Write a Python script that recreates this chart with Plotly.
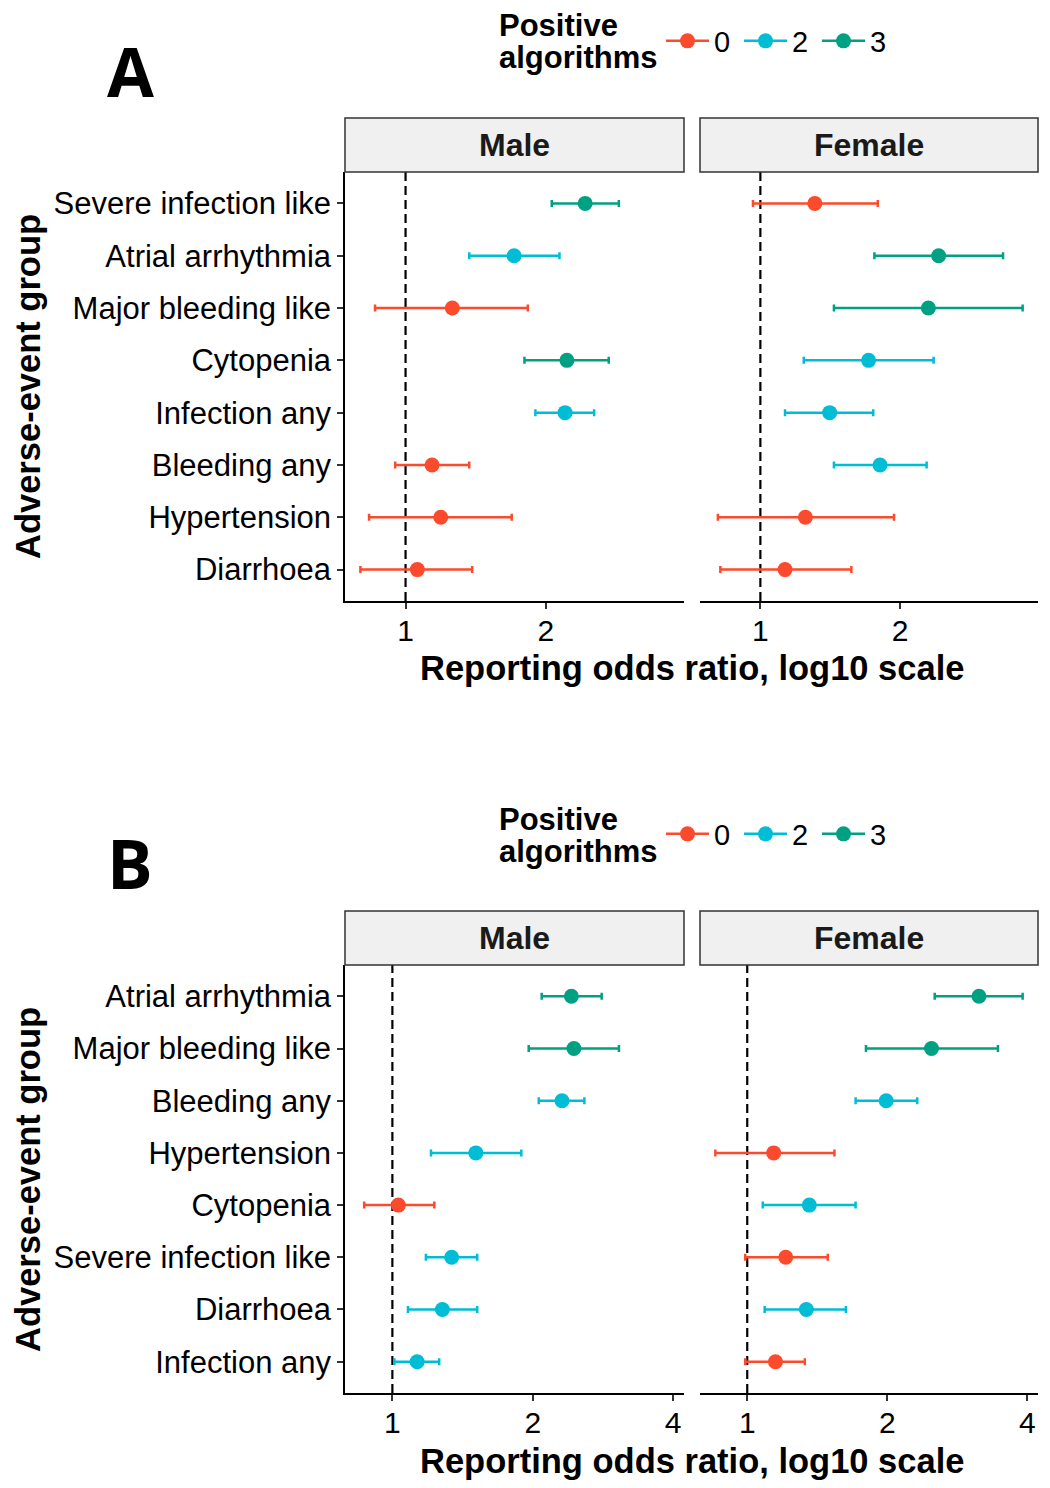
import numpy as np
import plotly.graph_objects as go

# ---- panel A: categories top -> bottom
a_groups = ["Severe infection like", "Atrial arrhythmia", "Major bleeding like", "Cytopenia",
            "Infection any", "Bleeding any", "Hypertension", "Diarrhoea"]
a_male_or = [2.43, 1.71, 1.26, 2.22, 2.20, 1.14, 1.19, 1.06]
a_male_lo = [2.06, 1.37, 0.86, 1.80, 1.90, 0.95, 0.835, 0.80]
a_male_hi = [2.87, 2.14, 1.83, 2.73, 2.54, 1.37, 1.69, 1.39]
a_male_alg = [3, 2, 0, 3, 2, 0, 0, 0]
a_female_or = [1.31, 2.42, 2.30, 1.71, 1.41, 1.81, 1.25, 1.13]
a_female_lo = [0.964, 1.76, 1.44, 1.24, 1.13, 1.44, 0.81, 0.82]
a_female_hi = [1.79, 3.33, 3.67, 2.36, 1.75, 2.28, 1.94, 1.57]
a_female_alg = [0, 3, 3, 2, 2, 2, 0, 0]

# ---- panel B: categories top -> bottom
b_groups = ["Atrial arrhythmia", "Major bleeding like", "Bleeding any", "Hypertension",
            "Cytopenia", "Severe infection like", "Diarrhoea", "Infection any"]
b_male_or = [2.42, 2.45, 2.31, 1.51, 1.03, 1.34, 1.28, 1.13]
b_male_lo = [2.09, 1.96, 2.06, 1.21, 0.87, 1.18, 1.08, 1.01]
b_male_hi = [2.81, 3.06, 2.58, 1.89, 1.23, 1.52, 1.52, 1.26]
b_male_alg = [3, 3, 2, 2, 0, 2, 2, 2]
b_female_or = [3.15, 2.49, 1.99, 1.14, 1.36, 1.21, 1.34, 1.15]
b_female_lo = [2.53, 1.80, 1.71, 0.854, 1.08, 0.99, 1.09, 0.99]
b_female_hi = [3.91, 3.46, 2.32, 1.54, 1.71, 1.49, 1.63, 1.33]
b_female_alg = [3, 3, 2, 0, 2, 0, 2, 0]

alg_levels = [0, 2, 3]
alg_colors = {0: "#FB4A2C", 2: "#00BDD6", 3: "#00A082"}
tick_vals = [1, 2, 4]

# page body has an 8px margin, so the figure is 16px smaller than the window
OFF = 8
W, H = 1050 - 2 * OFF, 1488 - 2 * OFF
FONT = "Liberation Sans, Arial, sans-serif"


def fx(px):
    return (px - OFF) / W


def fy(py):
    return 1 - (py - OFF) / H


def log_range(lo, hi):
    # ggplot-like 5% expansion on log scale
    a = np.log10(min(lo))
    b = np.log10(max(hi))
    pad = (b - a) * 0.05
    return [a - pad, b + pad]


fig = go.Figure()

facets = [
    ("x", "y", a_groups, a_male_or, a_male_lo, a_male_hi, a_male_alg),
    ("x2", "y2", a_groups, a_female_or, a_female_lo, a_female_hi, a_female_alg),
    ("x3", "y3", b_groups, b_male_or, b_male_lo, b_male_hi, b_male_alg),
    ("x4", "y4", b_groups, b_female_or, b_female_lo, b_female_hi, b_female_alg),
]

for xa, ya, groups, orr, lo, hi, alg in facets:
    orr, lo, hi, alg = map(np.array, (orr, lo, hi, alg))
    groups = np.array(groups)
    for k in alg_levels:
        m = alg == k
        if not m.any():
            continue
        fig.add_trace(go.Scatter(
            x=orr[m], y=groups[m], mode="markers",
            xaxis=xa, yaxis=ya, showlegend=False,
            marker=dict(size=15, color=alg_colors[k]),
            error_x=dict(type="data", symmetric=False,
                         array=hi[m] - orr[m], arrayminus=orr[m] - lo[m],
                         color=alg_colors[k], thickness=2.5, width=3.5),
        ))

# legend entries (one legend per panel)
for leg, xa, ya in [("legend", "x", "y"), ("legend2", "x3", "y3")]:
    for k in alg_levels:
        fig.add_trace(go.Scatter(
            x=[None], y=[None], mode="lines+markers", name=str(k),
            xaxis=xa, yaxis=ya, legend=leg,
            marker=dict(size=15, color=alg_colors[k]),
            line=dict(color=alg_colors[k], width=2.5),
        ))

rng_a = log_range(a_male_lo + a_female_lo, a_male_hi + a_female_hi)
rng_b = log_range(b_male_lo + b_female_lo, b_male_hi + b_female_hi)

xcommon = dict(type="log", tickvals=tick_vals, ticktext=[str(v) for v in tick_vals],
               showgrid=False, zeroline=False, showline=True, linecolor="black",
               linewidth=1.5, ticks="outside", ticklen=6, tickwidth=1.5, tickcolor="#333",
               ticklabelstandoff=-4,
               tickfont=dict(size=30, color="black", family=FONT))


def ycommon(groups, labels):
    return dict(type="category", categoryarray=groups[::-1], range=[-0.6, 7.6],
                showgrid=False, zeroline=False, showline=labels, linecolor="black",
                linewidth=1.5, ticks="outside" if labels else "", ticklen=6,
                tickwidth=1.5, tickcolor="#333", showticklabels=labels,
                tickfont=dict(size=31, color="black", family=FONT))


male_dom = [fx(345), fx(684)]
female_dom = [fx(700), fx(1038)]
a_dom = [fy(601), fy(172)]
b_dom = [fy(1393), fy(965)]

legend_common = dict(orientation="h", xanchor="left", yanchor="middle",
                     bgcolor="rgba(0,0,0,0)", entrywidth=20, entrywidthmode="pixels",
                     itemwidth=43,
                     font=dict(size=29, family=FONT, color="black"),
                     itemsizing="trace")

fig.update_layout(
    width=W, height=H, plot_bgcolor="white", paper_bgcolor="white",
    margin=dict(l=0, r=0, t=0, b=0),
    font=dict(family=FONT, color="black"),
    xaxis=dict(domain=male_dom, anchor="y", range=rng_a, **xcommon),
    xaxis2=dict(domain=female_dom, anchor="y2", range=rng_a, **xcommon),
    xaxis3=dict(domain=male_dom, anchor="y3", range=rng_b, **xcommon),
    xaxis4=dict(domain=female_dom, anchor="y4", range=rng_b, **xcommon),
    yaxis=dict(domain=a_dom, anchor="x", **ycommon(a_groups, True)),
    yaxis2=dict(domain=a_dom, anchor="x2", **ycommon(a_groups, False)),
    yaxis3=dict(domain=b_dom, anchor="x3", **ycommon(b_groups, True)),
    yaxis4=dict(domain=b_dom, anchor="x4", **ycommon(b_groups, False)),
    legend=dict(x=fx(661), y=fy(41), **legend_common),
    legend2=dict(x=fx(661), y=fy(41 + 793), **legend_common),
)


def label(x, y, text, size, family=FONT, angle=0, xanchor="center", color="black"):
    fig.add_annotation(x=fx(x), y=fy(y), xref="paper", yref="paper", showarrow=False,
                       text=text, textangle=angle, xanchor=xanchor, yanchor="middle",
                       font=dict(size=size, family=family, color=color))


# reference line at ROR = 1
for xa, ya in [("x", "y"), ("x2", "y2"), ("x3", "y3"), ("x4", "y4")]:
    fig.add_shape(type="line", xref=xa, yref=ya + " domain", x0=1, x1=1, y0=0, y1=1,
                  line=dict(color="black", width=2.2, dash="9px,5px"), layer="below")

# facet strips
for top, bot in [(118, 172), (911, 965)]:
    for (l, r), lab in [((345, 684), "Male"), ((700, 1038), "Female")]:
        fig.add_shape(type="rect", xref="paper", yref="paper",
                      x0=fx(l), x1=fx(r), y0=fy(bot), y1=fy(top),
                      fillcolor="#F0F0F0", line=dict(color="#333", width=1.5))
        label((l + r) / 2, (top + bot) / 2, "<b>%s</b>" % lab, 32, color="#1a1a1a")

# legend titles, axis titles and panel letters
for dy, letter in [(0, "A"), (793, "B")]:
    label(497, 26 + dy, "<b>Positive</b>", 31, xanchor="left")
    label(497, 58 + dy, "<b>algorithms</b>", 31, xanchor="left")
    label(692, 668 + dy, "<b>Reporting odds ratio, log10 scale</b>", 34.5)
    label(28, 387 + dy, "<b>Adverse-event group</b>", 34.5, angle=-90)
    label(130, 70 + dy, "<b>%s</b>" % letter, 68, family="Open Sans, sans-serif")

fig.write_html("out.html")
